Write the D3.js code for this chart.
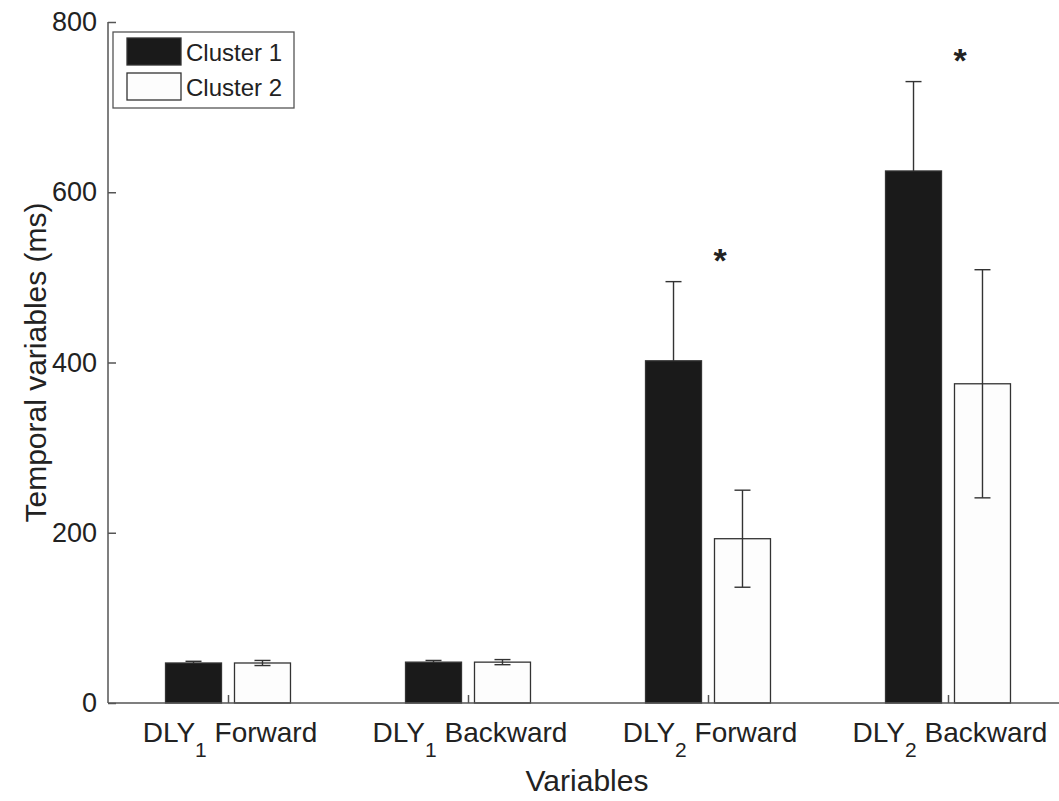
<!DOCTYPE html>
<html>
<head>
<meta charset="utf-8">
<script src="https://cdn.jsdelivr.net/npm/d3@7"></script>
<style>
  body { margin: 0; background: #fff; }
  text { font-family: "Liberation Sans", Arial, sans-serif; fill: #222; }
</style>
</head>
<body>
<div id="chart"></div>
<script>
// data
const groups = ["Forward", "Backward", "Forward", "Backward"];
const subs = ["1", "1", "2", "2"];
const seriesNames = ["Cluster 1", "Cluster 2"];
const cluster1 = [47, 48, 402, 625];
const cluster1Err = [2, 2, 93, 105];
const cluster2 = [47, 48, 193, 375];
const cluster2Err = [3, 3, 57, 134];
const yTicks = [0, 200, 400, 600, 800];
const stars = [false, false, true, true];

const w = 1059, h = 801;
const margin = {top: 22, left: 108, bottom: 98};

const svg = d3.select("#chart").append("svg")
    .attr("width", w)
    .attr("height", h);

// group positions 1..4, x limits 0.5 .. 4.5 (right side cut off)
const x = d3.scaleLinear().domain([0.5, 4.5]).range([margin.left, margin.left + 960]);
const y = d3.scaleLinear().domain([0, 800]).range([h - margin.bottom, margin.top]);

const barW = 0.2333;
const off = 0.1437;

const series = [
    {vals: cluster1, err: cluster1Err, fill: "#1a1a1a", dx: -off},
    {vals: cluster2, err: cluster2Err, fill: "#fdfdfd", dx: off}
];

function drawErrors(s) {
    const g = svg.append("g").attr("stroke", "#333").attr("stroke-width", 1.4);
    s.vals.forEach((v, i) => {
        const cx = x(i + 1 + s.dx);
        g.append("line").attr("x1", cx).attr("x2", cx)
            .attr("y1", y(v - s.err[i])).attr("y2", y(v + s.err[i]));
        [v - s.err[i], v + s.err[i]].forEach(e => {
            g.append("line").attr("x1", cx - 8).attr("x2", cx + 8)
                .attr("y1", y(e)).attr("y2", y(e));
        });
    });
}

// black bar error bars go underneath so the lower half is hidden
drawErrors(series[0]);

// bars
series.forEach(s => {
    svg.append("g").selectAll("rect")
        .data(s.vals)
        .enter().append("rect")
        .attr("x", (d, i) => x(i + 1 + s.dx - barW / 2))
        .attr("y", d => y(d))
        .attr("width", x(barW) - x(0))
        .attr("height", d => y(0) - y(d))
        .attr("fill", s.fill)
        .attr("stroke", "#333")
        .attr("stroke-width", 1.3);
});

drawErrors(series[1]);

// significance stars
svg.append("g").selectAll("text")
    .data(stars.map((s, i) => ({s, i})).filter(d => d.s))
    .enter().append("text")
    .attr("x", d => x(d.i + 1) + 12)
    .attr("y", d => y(Math.max(cluster1[d.i] + cluster1Err[d.i], cluster2[d.i] + cluster2Err[d.i])) - 10)
    .attr("text-anchor", "middle")
    .attr("font-size", 34)
    .attr("font-weight", "bold")
    .text("*");

// axes
const axisColor = "#555";
const yAxis = d3.axisLeft(y).tickValues(yTicks).tickSize(-8).tickPadding(11);
const gy = svg.append("g").attr("transform", "translate(" + margin.left + ",0)").call(yAxis);
gy.selectAll("text").attr("font-size", 27).attr("fill", "#222").attr("font-family", "Liberation Sans, Arial, sans-serif");
gy.selectAll("line, path").attr("stroke", axisColor).attr("stroke-width", 1.5);
gy.select(".domain").attr("d", "M0," + y(0) + "V" + y(800));

const xAxis = d3.axisBottom(x).tickValues([1, 2, 3, 4]).tickSize(-8).tickFormat("");
const gx = svg.append("g").attr("transform", "translate(0," + y(0) + ")").call(xAxis);
gx.selectAll("line, path").attr("stroke", axisColor).attr("stroke-width", 1.5);
gx.select(".domain").attr("d", "M" + margin.left + ",0H" + w);

// x tick labels with subscripts
const labels = svg.append("g").selectAll("text")
    .data(groups)
    .enter().append("text")
    .attr("x", (d, i) => x(i + 1) + 2)
    .attr("y", 742)
    .attr("text-anchor", "middle")
    .attr("font-size", 28);
labels.append("tspan").text("DLY");
labels.append("tspan").attr("dy", 15).attr("font-size", 21).text((d, i) => subs[i]);
labels.append("tspan").attr("dy", -15).text((d, i) => (i % 2 === 0 ? " " : "  ") + d);

// axis titles
svg.append("text")
    .attr("x", 587).attr("y", 791)
    .attr("text-anchor", "middle")
    .attr("font-size", 30)
    .text("Variables");

svg.append("text")
    .attr("transform", "translate(46," + y(400) + ") rotate(-90)")
    .attr("text-anchor", "middle")
    .attr("font-size", 30)
    .text("Temporal variables (ms)");

// legend
const lg = svg.append("g").attr("transform", "translate(113,32)");
lg.append("rect").attr("width", 181).attr("height", 76)
    .attr("fill", "#fff").attr("stroke", "#555").attr("stroke-width", 1.3);
series.forEach((s, i) => {
    lg.append("rect").attr("x", 14).attr("y", 6 + i * 35).attr("width", 54).attr("height", 27)
        .attr("fill", s.fill).attr("stroke", "#333").attr("stroke-width", 1.3);
    lg.append("text").attr("x", 73).attr("y", 29 + i * 35)
        .attr("font-size", 24).text(seriesNames[i]);
});
</script>
</body>
</html>
